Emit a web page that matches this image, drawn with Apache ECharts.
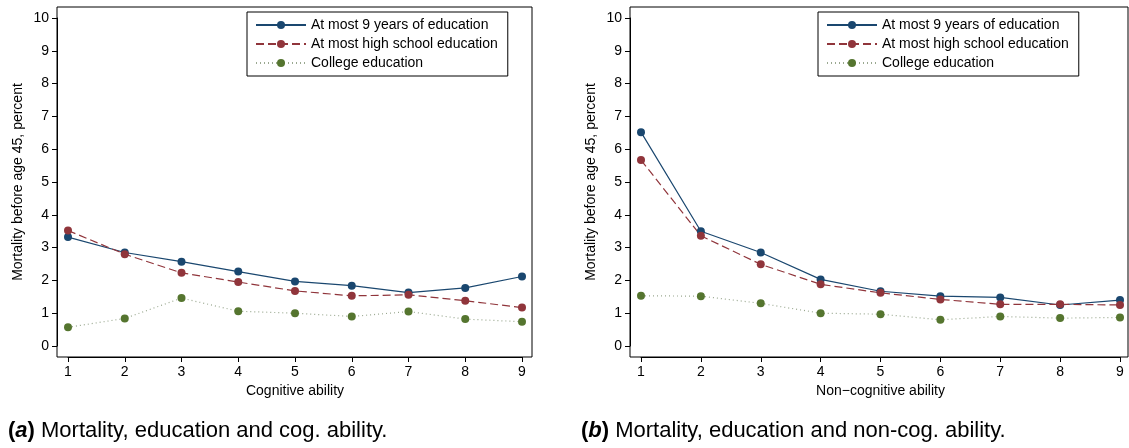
<!DOCTYPE html>
<html lang="en">
<head>
<meta charset="UTF-8">
<script src="https://cdn.jsdelivr.net/npm/echarts/dist/echarts.min.js"></script>
</head>
<body style="margin:0;background:#fff">
<div id="chart" style="width:1129px;height:448px;"></div>
<script>
const xs = [1, 2, 3, 4, 5, 6, 7, 8, 9];
const cogNine = [3.32, 2.85, 2.57, 2.27, 1.97, 1.84, 1.63, 1.77, 2.12];
const cogHigh = [3.52, 2.80, 2.23, 1.95, 1.68, 1.53, 1.56, 1.38, 1.17];
const cogCollege = [0.57, 0.84, 1.46, 1.06, 1.00, 0.90, 1.05, 0.82, 0.74];
const nonNine = [6.52, 3.50, 2.85, 2.03, 1.67, 1.52, 1.48, 1.25, 1.40];
const nonHigh = [5.67, 3.36, 2.49, 1.88, 1.62, 1.42, 1.27, 1.27, 1.25];
const nonCollege = [1.53, 1.52, 1.30, 1.00, 0.97, 0.80, 0.90, 0.85, 0.87];
const names = ['At most 9 years of education', 'At most high school education', 'College education'];
const colors = ['#1a476f', '#90353b', '#55752f'];
const lineTypes = ['solid', [8, 4], [1, 3]];
const lineColors = ['#1a476f', '#90353b', '#9aa890'];

const font = 'Liberation Sans, Arial, sans-serif';
let chart = echarts.init(document.getElementById('chart'));

function xAxis(i, name) {
  return {
    type: 'value', gridIndex: i, min: 1, max: 9, interval: 1, offset: 11,
    name: name, nameLocation: 'middle', nameGap: 26,
    nameTextStyle: { fontFamily: font, fontSize: 14, color: '#000' },
    axisLine: { onZero: false, lineStyle: { color: '#000' } },
    axisTick: { lineStyle: { color: '#000' } },
    axisLabel: { fontFamily: font, fontSize: 14, color: '#000' },
    splitLine: { show: false }
  };
}
function yAxis(i) {
  return {
    type: 'value', gridIndex: i, min: 0, max: 10, interval: 1, offset: 11,
    name: 'Mortality before age 45, percent', nameLocation: 'middle', nameGap: 32,
    nameTextStyle: { fontFamily: font, fontSize: 14, color: '#000' },
    axisLine: { show: true, lineStyle: { color: '#000' } },
    axisTick: { show: true, lineStyle: { color: '#000' } },
    axisLabel: { fontFamily: font, fontSize: 14, color: '#000' },
    splitLine: { show: false }
  };
}
function makeSeries(i, data) {
  return data.map((d, k) => ({
    name: names[k], type: 'line', xAxisIndex: i, yAxisIndex: i,
    data: xs.map((x, j) => [x, d[j]]),
    symbol: 'circle', symbolSize: 8,
    itemStyle: { color: colors[k] },
    lineStyle: { color: lineColors[k], width: 1.2, type: lineTypes[k] }
  }));
}
function legend(left) {
  return {
    left: left, top: 12, orient: 'vertical', itemGap: 5,
    data: names, itemWidth: 50, itemHeight: 10,
    borderColor: '#000', borderWidth: 1, borderRadius: 0, padding: [6, 10, 6, 8],
    textStyle: { fontFamily: font, fontSize: 14, color: '#000' }
  };
}
const cap = { b: { fontWeight: 'bold', fontSize: 22, fontFamily: font }, bi: { fontWeight: 'bold', fontStyle: 'italic', fontSize: 22, fontFamily: font } };

chart.setOption({
  animation: false,
  grid: [
    { left: 68, width: 454, top: 18, bottom: 102 },
    { left: 641, width: 479, top: 18, bottom: 102 }
  ],
  xAxis: [xAxis(0, 'Cognitive ability'), xAxis(1, 'Non\u2212cognitive ability')],
  yAxis: [yAxis(0), yAxis(1)],
  legend: [legend(247), legend(818)],
  series: [...makeSeries(0, [cogNine, cogHigh, cogCollege]), ...makeSeries(1, [nonNine, nonHigh, nonCollege])],
  graphic: [
    { type: 'rect', shape: { x: 57, y: 7, width: 475, height: 350 }, style: { fill: 'none', stroke: '#000', lineWidth: 1 }, z: -1 },
    { type: 'rect', shape: { x: 630, y: 7, width: 498, height: 350 }, style: { fill: 'none', stroke: '#000', lineWidth: 1 }, z: -1 },
    { type: 'text', left: 8, top: 420, style: { rich: cap, text: '{b|(}{bi|a}{b|)} Mortality, education and cog. ability.', fontSize: 22, fontFamily: font, fill: '#000' } },
    { type: 'text', left: 581, top: 420, style: { rich: cap, text: '{b|(}{bi|b}{b|)} Mortality, education and non-cog. ability.', fontSize: 22, fontFamily: font, fill: '#000' } }
  ]
});
</script>
</body>
</html>
